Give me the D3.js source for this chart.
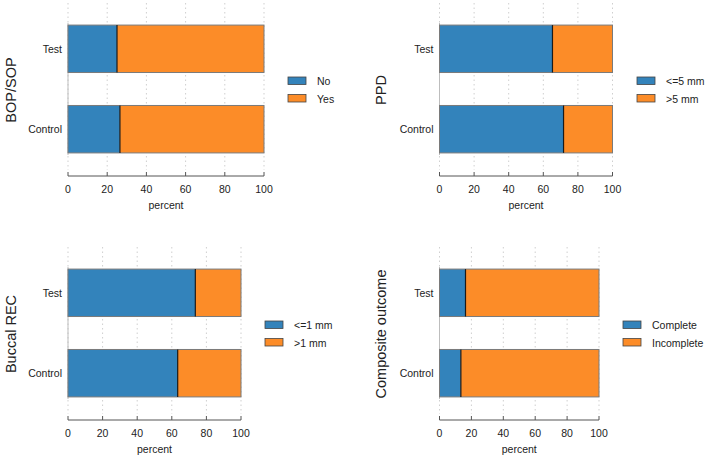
<!DOCTYPE html>
<html lang="en">
  <head>
    <meta charset="UTF-8" />
    <title>Stacked percent bars</title>
    <style>
      body {
        margin: 0;
        background: #fff;
        font-family: "Liberation Sans", Arial, Helvetica, sans-serif;
        color: #222;
      }
      .grid line {
        stroke: #cfcfcf;
        stroke-dasharray: 1.5 3;
      }
      .tick-label, .cat-label, .legend text {
        font-size: 10.5px;
        fill: #222;
      }
      .axis-title {
        font-size: 10.5px;
        fill: #222;
      }
      .y-title {
        font-size: 14.5px;
        fill: #222;
      }
    </style>
  </head>
  <body>
    <svg width="709" height="458"></svg>
  </body>
  <script src="https://cdn.jsdelivr.net/npm/d3@7"></script>
  <script>
    let groups = ["Test", "Control"];
    let ticks = [0, 20, 40, 60, 80, 100];

    let bopNo = [25, 26.5];
    let bopYes = [75, 73.5];
    let ppdLow = [65.3, 71.7];
    let ppdHigh = [34.7, 28.3];
    let recLow = [73.6, 63.4];
    let recHigh = [26.4, 36.6];
    let compDone = [16.3, 13.4];
    let compNot = [83.7, 86.6];

    let blue = "#3383bb";
    let orange = "#fc8c28";

    // one entry per panel: labels, values and where it sits
    let panels = [
      { title: "BOP/SOP", keys: ["No", "Yes"], a: bopNo, b: bopYes,
        x0: 68, x1: 264, y0: 9, titleX: 16, legX: 288 },
      { title: "PPD", keys: ["<=5 mm", ">5 mm"], a: ppdLow, b: ppdHigh,
        x0: 439.5, x1: 612.5, y0: 9, titleX: 386, legX: 637 },
      { title: "Buccal REC", keys: ["<=1 mm", ">1 mm"], a: recLow, b: recHigh,
        x0: 68, x1: 241, y0: 253, titleX: 16, legX: 265 },
      { title: "Composite outcome", keys: ["Complete", "Incomplete"], a: compDone, b: compNot,
        x0: 439.5, x1: 599, y0: 253, titleX: 386, legX: 623 },
    ];

    let svg = d3.select("svg");

    panels.forEach((p) => {
      let g = svg.append("g");
      let x = d3.scaleLinear().domain([0, 100]).range([p.x0, p.x1]);
      let y = d3.scaleBand().domain(groups).range([p.y0, p.y0 + 160])
        .paddingInner(0.41).paddingOuter(0.2);
      let axisY = p.y0 + 167;

      // dotted grid
      g.append("g").attr("class", "grid")
        .selectAll("line").data(ticks).join("line")
        .attr("x1", (d) => x(d)).attr("x2", (d) => x(d))
        .attr("y1", p.y0 - 6).attr("y2", p.y0 + 161);

      // zero line
      g.append("line")
        .attr("x1", x(0)).attr("x2", x(0))
        .attr("y1", p.y0 + 14).attr("y2", p.y0 + 146)
        .attr("stroke", "#bdbdbd");

      let rows = groups.map((name, i) => ({ name: name, a: p.a[i], b: p.b[i] }));

      let bars = g.selectAll(".row").data(rows).join("g");
      bars.append("rect")
        .attr("x", x(0))
        .attr("y", (d) => y(d.name))
        .attr("width", (d) => x(d.a) - x(0))
        .attr("height", y.bandwidth())
        .attr("fill", blue);
      bars.append("rect")
        .attr("x", (d) => x(d.a))
        .attr("y", (d) => y(d.name))
        .attr("width", (d) => x(d.a + d.b) - x(d.a))
        .attr("height", y.bandwidth())
        .attr("fill", orange);
      bars.append("rect")
        .attr("x", x(0))
        .attr("y", (d) => y(d.name))
        .attr("width", (d) => x(d.a + d.b) - x(0))
        .attr("height", y.bandwidth())
        .attr("fill", "none")
        .attr("stroke", "#7a7a7a")
        .attr("stroke-width", 1);
      bars.append("line")
        .attr("x1", (d) => x(d.a)).attr("x2", (d) => x(d.a))
        .attr("y1", (d) => y(d.name))
        .attr("y2", (d) => y(d.name) + y.bandwidth())
        .attr("stroke", "#1a1a1a")
        .attr("stroke-width", 1.2);

      // category labels
      g.selectAll(".cat-label").data(groups).join("text")
        .attr("class", "cat-label")
        .attr("x", x(0) - 6)
        .attr("y", (d) => y(d) + y.bandwidth() / 2 + 4)
        .attr("text-anchor", "end")
        .text((d) => d);

      // x axis
      g.append("line")
        .attr("x1", x(0)).attr("x2", x(100))
        .attr("y1", axisY).attr("y2", axisY)
        .attr("stroke", "#555");
      g.selectAll(".tk").data(ticks).join("line")
        .attr("x1", (d) => x(d)).attr("x2", (d) => x(d))
        .attr("y1", axisY - 4).attr("y2", axisY)
        .attr("stroke", "#555");
      g.selectAll(".tick-label").data(ticks).join("text")
        .attr("class", "tick-label")
        .attr("x", (d) => x(d))
        .attr("y", axisY + 17)
        .attr("text-anchor", "middle")
        .text((d) => d);
      g.append("text").attr("class", "axis-title")
        .attr("x", (x(0) + x(100)) / 2)
        .attr("y", axisY + 33)
        .attr("text-anchor", "middle")
        .text("percent");

      // y title
      g.append("text").attr("class", "y-title")
        .attr("transform", `translate(${p.titleX},${p.y0 + 81}) rotate(-90)`)
        .attr("text-anchor", "middle")
        .text(p.title);

      // legend
      let leg = g.append("g").attr("class", "legend");
      let items = leg.selectAll("g").data(p.keys).join("g")
        .attr("transform", (_, i) => `translate(${p.legX},${p.y0 + 68 + i * 17.5})`);
      items.append("rect")
        .attr("width", 18).attr("height", 7.5)
        .attr("fill", (_, i) => (i === 0 ? blue : orange))
        .attr("stroke", "#444").attr("stroke-width", 0.8);
      items.append("text")
        .attr("x", 29).attr("y", 8)
        .text((d) => d);
    });
  </script>
</html>
